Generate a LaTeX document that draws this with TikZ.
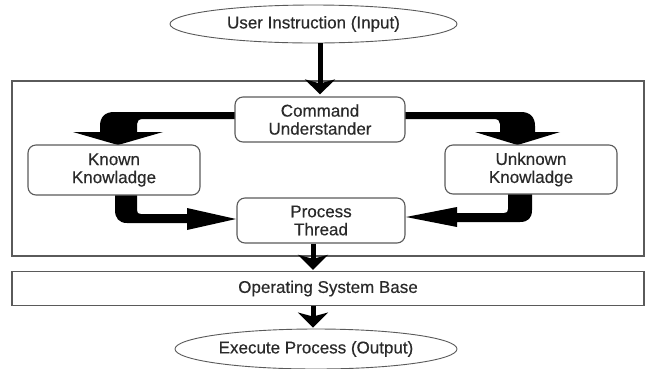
\documentclass[tikz,border=0pt]{standalone}
\usepackage{fontspec}
\setmainfont{Liberation Sans}
\newfontfamily\lblfont{Liberation Sans}[BoldFont={Liberation Sans}, BoldFeatures={FakeBold=0.4}]
\usetikzlibrary{arrows.meta,calc,shapes.geometric}
\definecolor{edge}{HTML}{5A5A5A}
\definecolor{ink}{HTML}{2A2A2A}
\tikzset{
  ovalnode/.style={ellipse, draw=edge, line width=0.9pt, inner sep=0pt, text=ink, fill=white},
  boxnode/.style={draw=edge, line width=1.1pt, rounded corners=8pt, align=center, inner sep=0pt, text=ink, fill=white},
  framebox/.style={draw=edge, line width=1.3pt, inner sep=0pt, text=ink},
  thinarrow/.style={line width=5pt, -{Stealth[width=30pt,length=15pt,inset=4pt]}},
  fatarrow/.style={fill=black},
}
\begin{document}
\begin{tikzpicture}[x=1pt, y=-1pt, font=\lblfont\bfseries\fontsize{17}{18}\selectfont]
\useasboundingbox (0,0) rectangle (648,368);

% containers
\node[framebox, minimum width=632pt, minimum height=175pt] (core) at (328,168.5) {};
\node[framebox, minimum width=632pt, minimum height=34pt] (os) at (328,288.5) {Operating System Base};

% ovals
\node[ovalnode, minimum width=287pt, minimum height=38pt] (in) at (313.5,24) {User Instruction (Input)};
\node[ovalnode, minimum width=282pt, minimum height=40pt] (out) at (316,349) {Execute Process (Output)};

% fat arrows
\fill[fatarrow] (235,112) -- (114,112) .. controls (105,112) and (100,117) .. (100,126)
  -- (100,132) -- (73,132) -- (118,145) -- (163,132) -- (137,132) -- (137,124)
  .. controls (137,121) and (139,119) .. (143,119) -- (235,119) -- cycle;
\fill[fatarrow] (405,112) -- (521,112) .. controls (530,112) and (535,117) .. (535,126)
  -- (535,132) -- (560,132) -- (517.5,145) -- (475,132) -- (500,132) -- (500,124)
  .. controls (500,121) and (498,119) .. (494,119) -- (405,119) -- cycle;
\fill[fatarrow] (115,195) -- (115,210) .. controls (115,218) and (119,223) .. (127,223)
  -- (187,223) -- (187,230) -- (236,219) -- (187,208) -- (187,214) -- (141,214)
  .. controls (138,214) and (137,213) .. (137,210) -- (137,195) -- cycle;
\fill[fatarrow] (532,194) -- (532,210) .. controls (532,218) and (528,222) .. (520,222)
  -- (457,222) -- (457,227) -- (406,217) -- (457,207) -- (457,213) -- (504,213)
  .. controls (507,213) and (508,212) .. (508,209) -- (508,194) -- cycle;

% boxes
\node[boxnode, minimum width=170pt, minimum height=45pt] (cmd) at (320,119.5) {Command\\Understander};
\node[boxnode, minimum width=172pt, minimum height=50pt] (known) at (114,170) {Known\\Knowladge};
\node[boxnode, minimum width=172pt, minimum height=49pt] (unknown) at (531,169.5) {Unknown\\Knowladge};
\node[boxnode, minimum width=168pt, minimum height=45pt] (proc) at (321,220.5) {Process\\Thread};

% thin arrows
\draw[thinarrow] (cmd.north |- in.south) -- ([yshift=2pt]cmd.north);
\coordinate (ax) at ($(proc.south)+(-8,0)$);
\draw[thinarrow] (ax) -- ([yshift=1pt]ax |- os.north);
\draw[thinarrow] (ax |- os.south) -- ([yshift=1pt]ax |- out.north);
\end{tikzpicture}
\end{document}
